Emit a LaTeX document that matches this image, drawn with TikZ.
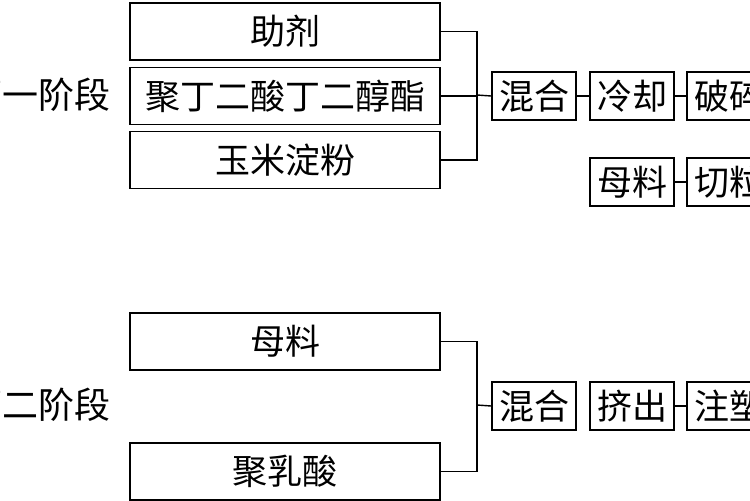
\documentclass[tikz,border=0pt]{standalone}
\usepackage{fontspec}
\setmainfont{Noto Sans CJK SC}
\begin{document}
\begin{tikzpicture}[x=0.5pt, y=-0.5pt, line width=0.7pt,
  wbox/.style={draw, minimum width=155pt, minimum height=28.5pt, font=\fontsize{17.5}{17.5}\selectfont, inner sep=0pt},
  sbox/.style={draw, minimum width=42pt, minimum height=24pt, font=\fontsize{17.5}{17.5}\selectfont, inner sep=0pt}]
\useasboundingbox (0,0) rectangle (750,500);
\clip (0,0) rectangle (750,500);

% first stage
\node[anchor=east, font=\fontsize{18}{18}\selectfont] (s1) at (118,95) {第一阶段};
\node[wbox] (zj) at (285,31.5) {助剂};
\node[wbox] (pbs) at (285,96) {聚丁二酸丁二醇酯};
\node[wbox] (ym) at (285,160) {玉米淀粉};
\coordinate (j1) at (477,95);
\node[sbox] (hh1) at (534,96) {混合};
\node[sbox] (lq) at (632,96) {冷却};
\node[sbox] (ps) at (729,96) {破碎};
\node[sbox] (ml1) at (632,182) {母料};
\node[sbox] (ql) at (729,182) {切粒};
\draw (zj.east) -| (j1);
\draw (ym.east) -| (j1);
\draw (pbs.east) -- (pbs.east -| j1);
\draw (j1) -- (hh1.west);
\draw (hh1) -- (lq);
\draw (lq) -- (ps);
\draw (ml1) -- (ql);

% second stage
\node[anchor=east, font=\fontsize{18}{18}\selectfont] (s2) at (118,405) {第二阶段};
\node[wbox] (ml2) at (285,341.5) {母料};
\node[wbox] (pla) at (285,471.5) {聚乳酸};
\coordinate (j2) at (477,405);
\node[sbox] (hh2) at (534,406) {混合};
\node[sbox] (jc) at (632,406) {挤出};
\node[sbox] (zs) at (729,406) {注塑};
\draw (ml2.east) -| (j2);
\draw (pla.east) -| (j2);
\draw (j2) -- (hh2.west);
\draw (jc) -- (zs);
\end{tikzpicture}
\end{document}
